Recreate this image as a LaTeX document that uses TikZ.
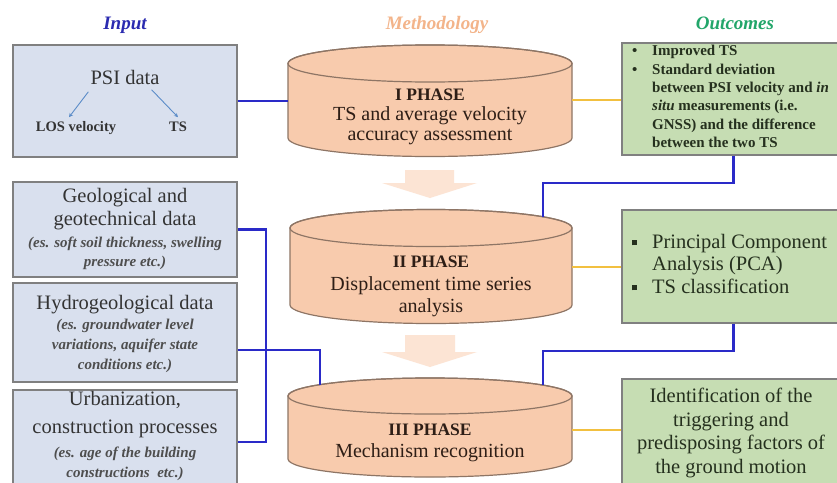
\documentclass[tikz,border=0pt]{standalone}
\usepackage{fontspec}
\setmainfont{Liberation Serif}
\usetikzlibrary{calc,arrows.meta}
\definecolor{inpfill}{HTML}{D9E0EE}
\definecolor{boxline}{HTML}{808080}
\definecolor{cylfill}{HTML}{F8CBAD}
\definecolor{cylline}{HTML}{8E7565}
\definecolor{outfill}{HTML}{C6DDB3}
\definecolor{blueln}{HTML}{2A2AC8}
\definecolor{yellowln}{HTML}{F2C040}
\definecolor{arrfill}{HTML}{FCE4D4}
\definecolor{inptitle}{HTML}{2B2BB0}
\definecolor{methtitle}{HTML}{F3B48A}
\definecolor{outtitle}{HTML}{22A66A}
\definecolor{inptext}{HTML}{333333}
\definecolor{inpital}{HTML}{4E4E4E}
\definecolor{cyltext}{HTML}{2E1E16}
\definecolor{outtext}{HTML}{25301E}
\definecolor{smallarr}{HTML}{5B8CC8}
\newcommand\drawcyl[5]{%
  \filldraw[fill=cylfill,draw=cylline,line width=1.2pt] (#1-#2,#3) -- (#1-#2,#4)
    arc[start angle=180,end angle=360,x radius=#2pt,y radius=#5pt] -- (#1+#2,#3)
    arc[start angle=0,end angle=180,x radius=#2pt,y radius=#5pt] -- cycle;
  \draw[cylline,line width=1.2pt] (#1,#3) ellipse[x radius=#2pt,y radius=#5pt];}
\newcommand\obul{\makebox[20pt][l]{•}}
\newcommand\sqbul{\makebox[20pt][l]{\raisebox{3pt}{\rule{5pt}{5pt}}}}
\begin{document}
\begin{tikzpicture}[x=1pt,y=-1pt,
  inbox/.style={draw=boxline,fill=inpfill,line width=1.3pt,minimum width=224pt,inner sep=0pt},
  outbox/.style={draw=boxline,fill=outfill,line width=1.3pt,minimum width=223pt,inner sep=0pt},
  ln/.style={inner sep=0pt,text height=0.7em,text depth=0.22em},
  title/.style={ln,font=\fontsize{19}{22}\selectfont\bfseries\itshape},
  big/.style={ln,font=\fontsize{20.5}{22}\selectfont,text=inptext},
  ital/.style={ln,font=\fontsize{15}{17}\selectfont\bfseries\itshape,text=inpital},
  cyt/.style={ln,font=\fontsize{20}{22}\selectfont,text=cyltext},
  cyb/.style={ln,font=\fontsize{17.5}{20}\selectfont\bfseries,text=cyltext},
  bl/.style={blueln,line width=2.2pt},
  yl/.style={yellowln,line width=2.2pt},
  bigarr/.style={fill=arrfill,draw=none}]
\fill[white] (0,0) rectangle (837,482);
\useasboundingbox (0,0) rectangle (837,482);

% titles
\node[title,text=inptitle] (tin) at (125,27) {Input};
\node[title,text=methtitle] (tmeth) at (437,27) {Methodology};
\node[title,text=outtitle] (tout) at (735,27) {Outcomes};

% phase arrows
\fill[bigarr] (405,170) -- (454,170) -- (454,183) -- (477,183) -- (430,198) -- (382,183) -- (405,183) -- cycle;
\fill[bigarr] (405,335) -- (455,335) -- (455,352) -- (477,352) -- (430,367) -- (382,352) -- (405,352) -- cycle;

% input boxes
\node[inbox,minimum height=112pt] (psi) at (125,101) {};
\node[inbox,minimum height=95pt] (geo) at (125,229.5) {};
\node[inbox,minimum height=99pt] (hydro) at (125,332.5) {};
\node[inbox,minimum height=104pt] (urban) at (125,442) {};

\node[big] (psit) at (125,82) {PSI data};
\node[ln,font=\fontsize{14.5}{16}\selectfont\bfseries,text=inptext] (los) at (76,129) {LOS velocity};
\node[ln,font=\fontsize{14.5}{16}\selectfont\bfseries,text=inptext] (ts) at (178,129) {TS};
\draw[smallarr,line width=0.9pt,-{Stealth[length=4pt,width=4pt]}] ([shift={(-2,5)}]psit.south west) -- ([shift={(-7,-7)}]los.north);
\draw[smallarr,line width=0.9pt,-{Stealth[length=4pt,width=4pt]}] ([shift={(-8,3)}]psit.south east) -- ([shift={(0,-7)}]ts.north);

\node[big] (g1) at (125,200) {Geological and};
\node[big] (g2) at (125,223) {geotechnical data};
\node[ital] (g3) at (125,245) {(es. soft soil thickness, swelling};
\node[ital] (g4) at (125,264) {pressure etc.)};

\node[big] (h1) at (125,307) {Hydrogeological data};
\node[ital] (h2) at (125,327) {(es. groundwater level};
\node[ital] (h3) at (125,347) {variations, aquifer state};
\node[ital] (h4) at (125,367) {conditions etc.)};

\node[big] (u1) at (125,403) {Urbanization,};
\node[big] (u2) at (125,431) {construction processes};
\node[ital] (u3) at (125,455) {(es. age of the building};
\node[ital] (u4) at (125,475) {constructions\ \ etc.)};

% cylinders
\drawcyl{430}{142}{63.5}{138}{18.5}
\drawcyl{431}{141}{228}{305}{18.5}
\drawcyl{430}{142}{396}{459}{18}
\node[inner sep=0pt,minimum width=284pt,minimum height=90pt] (p1) at (430,100) {};
\node[inner sep=0pt,minimum width=282pt,minimum height=90pt] (p2) at (431,267) {};
\node[inner sep=0pt,minimum width=284pt,minimum height=80pt] (p3) at (430,430) {};
\coordinate (p2in) at (543,217);
\coordinate (p3inR) at (543,385);
\coordinate (p3inL) at (320,385);

\node[cyb] (p1a) at (430,98) {I PHASE};
\node[cyt] (p1b) at (430,118) {TS and average velocity};
\node[cyt] (p1c) at (430,138) {accuracy assessment};
\node[cyb] (p2a) at (431,265) {II PHASE};
\node[cyt] (p2b) at (431,288) {Displacement time series};
\node[cyt] (p2c) at (431,310) {analysis};
\node[cyb] (p3a) at (430,433) {III PHASE};
\node[cyt] (p3b) at (430,455) {Mechanism recognition};

% outcome boxes
\node[outbox,minimum height=112pt] (o1) at (733.5,99) {};
\node[outbox,minimum height=113pt] (o2) at (733.5,266.5) {};
\node[outbox,minimum height=108pt] (o3) at (733.5,433) {};

\node[anchor=north west,align=left,inner sep=0pt,text=outtext,
  font=\fontsize{15}{18.4}\selectfont\bfseries] (o1t) at (632,45)
  {\obul Improved TS\\
   \obul Standard deviation\\
   \hspace*{20pt}between PSI velocity and \textit{in}\\
   \hspace*{20pt}\textit{situ} measurements (i.e.\\
   \hspace*{20pt}GNSS) and the difference\\
   \hspace*{20pt}between the two TS};
\node[anchor=north west,align=left,inner sep=0pt,text=outtext,
  font=\fontsize{20.5}{22.5}\selectfont] (o2t) at (632,234)
  {\sqbul Principal Component\\
   \hspace*{20pt}Analysis (PCA)\\
   \sqbul TS classification};
\node[align=center,inner sep=0pt,text=outtext,
  font=\fontsize{20.5}{23.4}\selectfont] (o3t) at (731,433)
  {Identification of the\\ triggering and\\ predisposing factors of\\ the ground motion};

% connectors
\draw[bl] (psi.east) -- (psi.east -| p1.west);
\draw[yl] (p1.east) -- (p1.east -| o1.west);
\draw[bl] (o1.south) -- ++(0,27) -| (p2in);
\draw[yl] (p2.east) -- (p2.east -| o2.west);
\draw[bl] (o2.south) -- ++(0,27) -| (p3inR);
\draw[yl] (p3.east) -- (p3.east -| o3.west);
\draw[bl] (geo.east) -- ++(28,0) |- (urban.east);
\draw[bl] ([yshift=-17.5pt]hydro.east) -| (p3inL);
\end{tikzpicture}
\end{document}
